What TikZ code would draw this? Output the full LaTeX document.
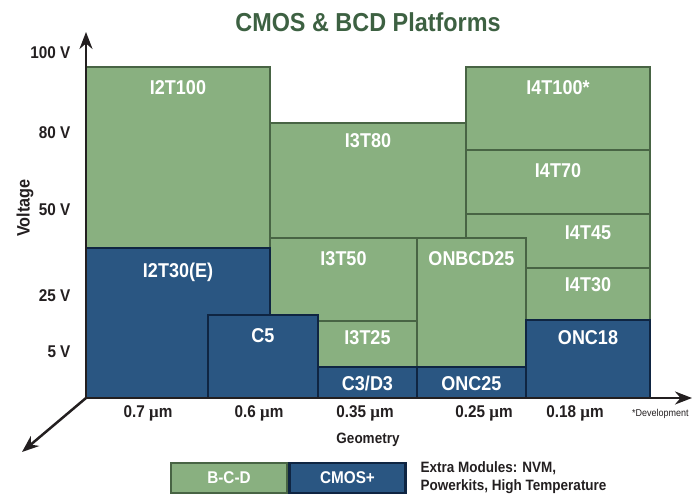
\documentclass[tikz,border=0pt]{standalone}
\usepackage{fontspec}
\setmainfont{Liberation Sans}[FakeStretch=0.9]
\newfontfamily\mufont{Liberation Serif}
\usepackage{xcolor}
\usetikzlibrary{arrows.meta, positioning}
\definecolor{bcdfill}{RGB}{137,176,128}
\definecolor{bcdline}{RGB}{72,100,68}
\definecolor{cmosfill}{RGB}{42,86,130}
\definecolor{cmosline}{RGB}{15,37,66}
\definecolor{titlecolor}{RGB}{61,97,66}
\definecolor{axiscolor}{RGB}{35,31,32}
\newcommand{\micron}{{\mufont μ}m}

\begin{document}
\begin{tikzpicture}[
    x=1pt, y=1pt,
    node distance=12pt,
    box/.style={draw, line width=2.5pt, inner sep=0pt, outer sep=0pt, anchor=south west},
    bcd/.style={box, draw=bcdline, fill=bcdfill},
    cmos/.style={box, draw=cmosline, fill=cmosfill},
    lbl/.style={text=white, font=\fontsize{20}{24}\selectfont\bfseries, inner sep=0pt, text height=14pt, text depth=4pt},
    tick/.style={text=axiscolor, font=\fontsize{17}{20}\selectfont\bfseries},
    legend/.style={box, minimum width=116pt, minimum height=30pt, text=white, font=\fontsize{17}{20}\selectfont\bfseries},
    axis/.style={draw=axiscolor, line width=2.5pt, -{Stealth[length=17pt, width=13pt]}}
]
    \useasboundingbox (-86,-99) rectangle (607,398);

    % Title
    \node[font=\fontsize{26}{30}\selectfont\bfseries, text=titlecolor] (title) at (282,376) {CMOS \& BCD Platforms};

    % B-C-D platforms
    \node[bcd, minimum width=184pt, minimum height=181pt] (i2t100) at (0,150) {};
    \node[bcd, minimum width=196pt, minimum height=115pt] (i3t80) at (184,160) {};
    \node[bcd, minimum width=184pt, minimum height=83pt] (i4t100) at (380,248) {};
    \node[bcd, minimum width=184pt, minimum height=64pt] (i4t70) at (380,184) {};
    \node[bcd, minimum width=184pt, minimum height=54pt] (i4t45) at (380,130) {};
    \node[bcd, minimum width=147pt, minimum height=83pt] (i3t50) at (184,77) {};
    \node[bcd, minimum width=99pt, minimum height=46pt] (i3t25) at (232,31) {};
    \node[bcd, minimum width=109pt, minimum height=129pt] (onbcd25) at (331,31) {};
    \node[bcd, minimum width=124pt, minimum height=52pt] (i4t30) at (440,78) {};

    % CMOS+ platforms
    \node[cmos, minimum width=184pt, minimum height=150pt] (i2t30) at (0,0) {};
    \node[cmos, minimum width=110pt, minimum height=83pt] (c5) at (122,0) {};
    \node[cmos, minimum width=99pt, minimum height=31pt] (c3d3) at (232,0) {};
    \node[cmos, minimum width=109pt, minimum height=31pt] (onc25) at (331,0) {};
    \node[cmos, minimum width=124pt, minimum height=78pt] (onc18) at (440,0) {};

    % Platform names
    \coordinate (i4t45top) at (i4t30.north |- i4t45.north);
    \node[lbl, below=13pt of i2t100.north] (li2t100) {I2T100};
    \node[lbl, below=10pt of i3t80.north] (li3t80) {I3T80};
    \node[lbl, below=13pt of i4t100.north] (li4t100) {I4T100*};
    \node[lbl, below=13pt of i4t70.north] (li4t70) {I4T70};
    \node[lbl, below=11pt of i4t45top] (li4t45) {I4T45};
    \node[lbl, below=13pt of i3t50.north] (li3t50) {I3T50};
    \node[lbl, below=9pt of i3t25.north] (li3t25) {I3T25};
    \node[lbl, below=13pt of onbcd25.north] (lonbcd25) {ONBCD25};
    \node[lbl, below=9pt of i4t30.north] (li4t30) {I4T30};
    \node[lbl, below=15pt of i2t30.north] (li2t30) {I2T30(E)};
    \node[lbl, below=13pt of c5.north] (lc5) {C5};
    \node[lbl, below=9pt of c3d3.north] (lc3d3) {C3/D3};
    \node[lbl, below=9pt of onc25.north] (lonc25) {ONC25};
    \node[lbl, below=10pt of onc18.north] (lonc18) {ONC18};

    % Axes
    \coordinate (o) at (0,0);
    \coordinate (ytip) at (0,366);
    \coordinate (xtip) at (606,0);
    \coordinate (ztip) at (-64,-54);
    \draw[axis] (o) -- (ytip);
    \draw[axis] (o) -- (xtip);
    \draw[axis] (o) -- (ztip);

    % Voltage ticks
    \node[tick, anchor=east] (v100) at (-12,345) {100 V};
    \node[tick, anchor=east] (v80) at (-12,265) {80 V};
    \node[tick, anchor=east] (v50) at (-12,188) {50 V};
    \node[tick, anchor=east] (v25) at (-12,102) {25 V};
    \node[tick, anchor=east] (v5) at (-12,46) {5 V};
    \node[tick, rotate=90, font=\fontsize{18}{20}\selectfont\bfseries] (voltage) at (-61,190) {Voltage};

    % Geometry ticks
    \node[tick] (g07) at (62,-15) {0.7 \micron};
    \node[tick] (g06) at (173,-15) {0.6 \micron};
    \node[tick] (g035) at (279,-15) {0.35 \micron};
    \node[tick] (g025) at (398,-15) {0.25 \micron};
    \node[tick] (g018) at (489,-15) {0.18 \micron};
    \node[tick, font=\fontsize{15}{18}\selectfont\bfseries] (geometry) at (282,-42) {Geometry};
    \node[anchor=west, inner sep=0pt, text=axiscolor, font=\fontsize{10}{12}\selectfont] (devnote) at (546,-16) {*Development};

    % Legend
    \node[legend, draw=bcdline, fill=bcdfill, anchor=north west] (legbcd) at (85,-65) {B-C-D};
    \node[legend, draw=cmosline, fill=cmosfill, right=2.5pt of legbcd] (legcmos) {CMOS+};
    \node[right=15pt of legcmos, align=left, inner sep=0pt, text=axiscolor, font=\fontsize{15}{18}\selectfont\bfseries] (extra) {Extra Modules: NVM,\\Powerkits, High Temperature};
\end{tikzpicture}
\end{document}
